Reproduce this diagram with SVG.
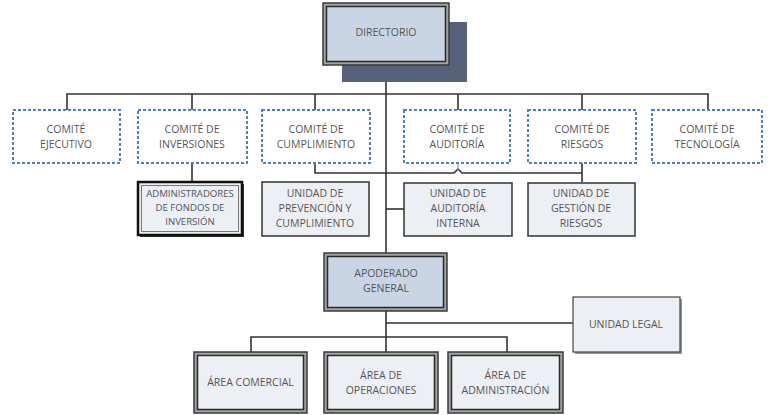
<svg xmlns="http://www.w3.org/2000/svg" width="769" height="415" viewBox="0 0 769 415">
<style>
text{font-family:"Open Sans","Liberation Sans",sans-serif;font-size:10.5px;fill:#555;text-anchor:middle}
.com{fill:#fff;stroke:#4f81bd;stroke-width:2;stroke-dasharray:3 2}
.dbo{fill:#a3a3a3;stroke:#3a3a3a;stroke-width:1.5}
.dbi-b{fill:#c9d5e4;stroke:#2a2a2a;stroke-width:1.5}
.dbi-g{fill:#eceff4;stroke:#2a2a2a;stroke-width:1.5}
.box{fill:#eceff4;stroke:#333;stroke-width:1.5}
.ln{fill:none;stroke:#333;stroke-width:1.6}
.sm{font-size:9.6px}
</style>
<g id="connectors">
<path class="ln" d="M386,82 V253"/>
<path class="ln" d="M67,110 V94 H708 V110"/>
<path class="ln" d="M192,94 V110 M315,94 V110 M458,94 V110 M582,94 V110"/>
<path class="ln" d="M192,163 V182"/>
<path class="ln" d="M315,163 V173 H454 L458,169 L462,173 H582 M582,163 V182"/>
<path d="M458,163 V171" stroke="#7fa6d6" stroke-width="1.2"/>
<path class="ln" d="M386,209 H404"/>
<path class="ln" d="M386,311 V352 M386,323 H573 M251,352 V337 H507 V352"/>
</g>
<g id="directorio">
<rect x="342" y="22" width="125" height="60" fill="#56627a"/>
<rect class="dbo" x="323" y="3" width="126" height="62"/>
<rect class="dbi-b" x="326.5" y="6.5" width="119" height="55"/>
<text x="386" y="36">DIRECTORIO</text>
</g>
<g id="comite-ejecutivo">
<rect class="com" x="13" y="110" width="107" height="53"/>
<text x="66" y="133">COMITÉ</text><text x="66" y="148">EJECUTIVO</text>
</g>
<g id="comite-inversiones">
<rect class="com" x="138" y="110" width="109" height="53"/>
<text x="192" y="133">COMITÉ DE</text><text x="192" y="148">INVERSIONES</text>
</g>
<g id="comite-cumplimiento">
<rect class="com" x="262" y="110" width="108" height="53"/>
<text x="316" y="133">COMITÉ DE</text><text x="316" y="148">CUMPLIMIENTO</text>
</g>
<g id="comite-auditoria">
<rect class="com" x="404" y="110" width="106" height="53"/>
<text x="457" y="133">COMITÉ DE</text><text x="457" y="148">AUDITORÍA</text>
</g>
<g id="comite-riesgos">
<rect class="com" x="528" y="110" width="108" height="53"/>
<text x="582" y="133">COMITÉ DE</text><text x="582" y="148">RIESGOS</text>
</g>
<g id="comite-tecnologia">
<rect class="com" x="652" y="110" width="110" height="53"/>
<text x="707" y="133">COMITÉ DE</text><text x="707" y="148">TECNOLOGÍA</text>
</g>
<g id="administradores">
<rect x="140" y="184" width="104" height="53" fill="#333"/>
<rect x="138" y="182" width="104" height="53" fill="#eceff4" stroke="#111" stroke-width="2.5"/>
<rect x="141.5" y="185.5" width="97" height="46" fill="none" stroke="#777" stroke-width="1"/>
<text class="sm" x="190" y="197">ADMINISTRADORES</text>
<text class="sm" x="190" y="211">DE FONDOS DE</text>
<text class="sm" x="190" y="225">INVERSIÓN</text>
</g>
<g id="unidad-prevencion">
<rect class="box" x="262" y="182" width="107" height="54"/>
<text x="315" y="197">UNIDAD DE</text><text x="315" y="212">PREVENCIÓN Y</text><text x="315" y="227">CUMPLIMIENTO</text>
</g>
<g id="unidad-auditoria">
<rect class="box" x="404" y="183" width="108" height="53"/>
<text x="458" y="197">UNIDAD DE</text><text x="458" y="212">AUDITORÍA</text><text x="458" y="227">INTERNA</text>
</g>
<g id="unidad-riesgos">
<rect class="box" x="528" y="183" width="107" height="53"/>
<text x="581" y="197">UNIDAD DE</text><text x="581" y="212">GESTIÓN DE</text><text x="581" y="227">RIESGOS</text>
</g>
<g id="apoderado">
<rect class="dbo" x="324" y="253" width="123" height="58"/>
<rect class="dbi-b" x="327.5" y="256.5" width="116" height="51"/>
<text x="386" y="277">APODERADO</text><text x="386" y="292">GENERAL</text>
</g>
<g id="unidad-legal">
<rect x="575" y="299" width="107" height="55" fill="#999"/>
<rect x="573" y="297" width="107" height="55" fill="#eceff4" stroke="#444" stroke-width="1.2"/>
<text x="626" y="328">UNIDAD LEGAL</text>
</g>
<g id="area-comercial">
<rect class="dbo" x="194" y="352" width="113" height="61"/>
<rect class="dbi-g" x="197.5" y="355.5" width="106" height="54"/>
<text x="250.5" y="386">ÁREA COMERCIAL</text>
</g>
<g id="area-operaciones">
<rect class="dbo" x="324" y="352" width="114" height="61"/>
<rect class="dbi-g" x="327.5" y="355.5" width="107" height="54"/>
<text x="381" y="379">ÁREA DE</text><text x="381" y="394">OPERACIONES</text>
</g>
<g id="area-administracion">
<rect class="dbo" x="448" y="352" width="115" height="61"/>
<rect class="dbi-g" x="451.5" y="355.5" width="108" height="54"/>
<text x="505.5" y="379">ÁREA DE</text><text x="505.5" y="394">ADMINISTRACIÓN</text>
</g>
</svg>
